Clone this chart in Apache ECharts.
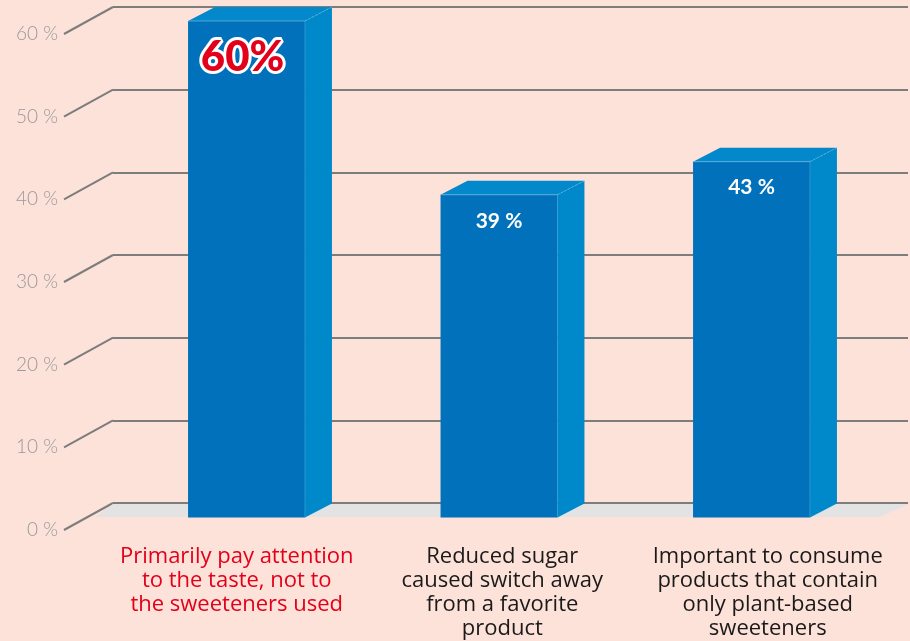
<!DOCTYPE html>
<html>
<head>
<meta charset="utf-8">
<title>Sweeteners survey</title>
<script src="https://cdn.jsdelivr.net/npm/echarts@6/dist/echarts.min.js"></script>
<style>
  html, body { margin: 0; padding: 0; background: #FDE2D9; }
  #chart { width: 910px; height: 641px; }
</style>
</head>
<body>
<div id="chart"></div>
<script>
// Survey answers (share of respondents, %)
const categories = [
  'Primarily pay attention\nto the taste, not to\nthe sweeteners used',
  'Reduced sugar\ncaused switch away\nfrom a favorite\nproduct',
  'Important to consume\nproducts that contain\nonly plant-based\nsweeteners'
];
const values = [60, 39, 43];
const highlightIndex = 0;          // the answer called out in red
const yTicks = [0, 10, 20, 30, 40, 50, 60];

// 3D look: offset of the back face relative to the front face
const DEPTH_X = 27, DEPTH_Y = -14;
const RED = '#E3001B';

const chart = echarts.init(document.getElementById('chart'));

function renderDiagonal(params, api) {
  const p = api.coord([0, api.value(1)]);
  const x0 = params.coordSys.x;
  return {
    type: 'line',
    shape: { x1: x0 - 49, y1: p[1] + 27, x2: x0, y2: p[1] },
    style: { stroke: '#7d7d7d', lineWidth: 2 }
  };
}

function renderFloor(params, api) {
  const p = api.coord([0, 0]);
  const cs = params.coordSys;
  const y = p[1] + 1;
  return {
    type: 'polygon',
    shape: { points: [[cs.x - 18, y + 13], [cs.x, y], [cs.x + cs.width, y], [cs.x + cs.width - 28, y + 13]] },
    style: { fill: '#E3E3E3' }
  };
}

function renderBar(params, api) {
  const i = api.value(0), v = api.value(1);
  const top = api.coord([i, v]);
  const base = api.coord([i, 0]);
  const w = api.size([1, 0])[0] * 0.463;
  const xl = top[0] - w / 2, xr = top[0] + w / 2;
  const yt = top[1], yb = base[1];
  const hi = i === highlightIndex;
  const children = [
    { type: 'polygon', shape: { points: [[xr, yt], [xr + DEPTH_X, yt + DEPTH_Y], [xr + DEPTH_X, yb + DEPTH_Y], [xr, yb]] },
      style: { fill: '#0089CA' } },
    { type: 'polygon', shape: { points: [[xl, yt], [xl + DEPTH_X, yt + DEPTH_Y], [xr + DEPTH_X, yt + DEPTH_Y], [xr, yt]] },
      style: { fill: '#0288CB' } },
    { type: 'rect', shape: { x: xl, y: yt, width: w, height: yb - yt },
      style: { fill: '#0071BA' } },
    { type: 'line', shape: { x1: xl, y1: yt, x2: xr, y2: yt },
      style: { stroke: 'rgba(110,185,230,0.7)', lineWidth: 1 } },
    { type: 'line', shape: { x1: xr, y1: yt, x2: xr + DEPTH_X, y2: yt + DEPTH_Y },
      style: { stroke: 'rgba(120,195,235,0.6)', lineWidth: 1, lineDash: [2, 2] } },
    { type: 'line', shape: { x1: xr, y1: yt, x2: xr, y2: yb },
      style: { stroke: 'rgba(60,160,215,0.6)', lineWidth: 1 } },
    hi ? {
      type: 'text',
      style: {
        text: v + '%', x: top[0] - 4, y: yt + 36, align: 'center', verticalAlign: 'middle',
        fill: RED, stroke: '#ffffff', lineWidth: 6,
        fontFamily: 'Lato', fontWeight: 900, fontSize: 42
      }
    } : {
      type: 'text',
      style: {
        text: v + ' %', x: top[0], y: yt + 26, align: 'center', verticalAlign: 'middle',
        fill: '#ffffff', fontFamily: 'Lato', fontWeight: 'bold', fontSize: 21
      }
    }
  ];
  return { type: 'group', children: children };
}

const yRange = { type: 'value', min: 0, max: 60, interval: 10 };

chart.setOption({
  backgroundColor: '#FDE2D9',
  animation: false,
  grid: [
    // back wall: horizontal gridlines
    { left: 113, right: 2, top: 7, bottom: 138 },
    // front edge: tick labels and category labels
    { left: 104, right: 9.5, top: 34, bottom: 111 },
    // bar front faces
    { left: 120.25, right: 32.25, top: 21, bottom: 123.5 }
  ],
  xAxis: [
    { gridIndex: 0, type: 'category', data: categories, show: false },
    { gridIndex: 1, type: 'category', data: categories,
      axisLine: { show: false }, axisTick: { show: false },
      axisLabel: {
        margin: 15, interval: 0, fontFamily: 'Open Sans', fontSize: 22, lineHeight: 24,
        color: function (val, idx) { return idx === highlightIndex ? RED : '#1a1a1a'; }
      } },
    { gridIndex: 2, type: 'category', data: categories, show: false }
  ],
  yAxis: [
    Object.assign({ gridIndex: 0, axisLabel: { show: false }, axisLine: { show: false }, axisTick: { show: false },
      splitLine: { lineStyle: { color: '#7d7d7d', width: 2 } } }, yRange),
    Object.assign({ gridIndex: 1, axisLine: { show: false }, axisTick: { show: false }, splitLine: { show: false },
      axisLabel: { margin: 46, fontFamily: 'Lato', fontWeight: 300, fontSize: 19, color: '#999999',
        formatter: function (v) { return v + ' %'; } } }, yRange),
    Object.assign({ gridIndex: 2, show: false, splitLine: { show: false } }, yRange)
  ],
  series: [
    { type: 'custom', xAxisIndex: 0, yAxisIndex: 0, renderItem: renderDiagonal, clip: false,
      data: yTicks.map(function (t) { return [0, t]; }), silent: true },
    { type: 'custom', xAxisIndex: 0, yAxisIndex: 0, renderItem: renderFloor, clip: false,
      data: [[0, 0]], silent: true },
    { type: 'custom', xAxisIndex: 2, yAxisIndex: 2, renderItem: renderBar, clip: false,
      data: values.map(function (v, i) { return [i, v]; }) }
  ]
});
</script>
</body>
</html>
